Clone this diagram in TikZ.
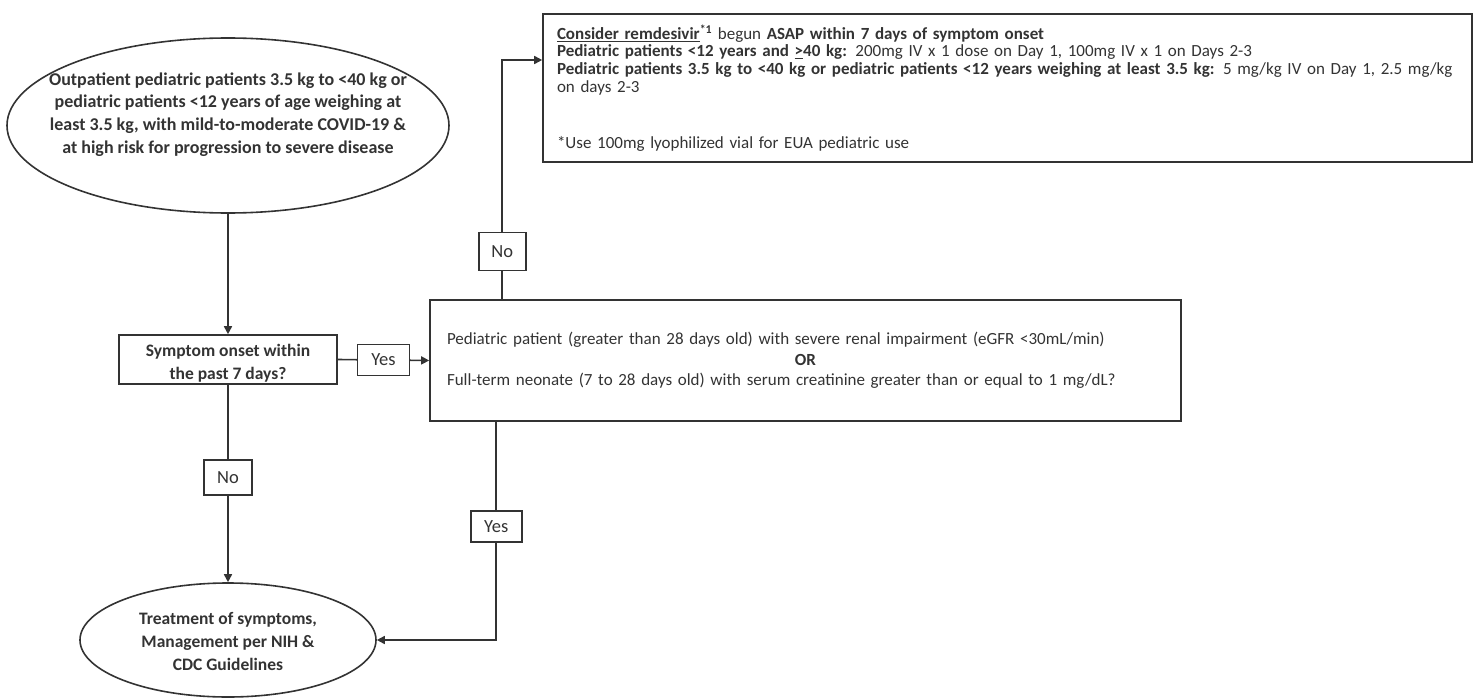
\documentclass[tikz,border=0pt]{standalone}
\usepackage{fontspec}
\setmainfont{Carlito}
\usetikzlibrary{shapes.geometric, arrows.meta}
\definecolor{ink}{HTML}{333333}

\begin{document}
\begin{tikzpicture}[x=1pt, y=-1pt, line width=1.6pt, draw=ink, text=ink,
  oval/.style={ellipse, draw, inner sep=0pt},
  box/.style={rectangle, draw, inner sep=0pt},
  tag/.style={rectangle, draw, fill=white, inner sep=0pt, font=\fontsize{18.5}{20}\selectfont},
  link/.style={-{Triangle[length=8pt, width=8pt]}}]
\useasboundingbox (0,0) rectangle (1473,698);
% Draw start and end ovals
\node[oval, minimum width=442, minimum height=175,
  label={[align=center, font=\fontsize{18}{22.7}\selectfont\bfseries, yshift=11pt]center:Outpatient pediatric patients 3.5 kg to <40 kg or\\pediatric patients <12 years of age weighing at\\least 3.5 kg, with mild-to-moderate COVID-19 \&\\at high risk for progression to severe disease}]
  (start) at (228,125.5) {};
\node[oval, minimum width=296, minimum height=114,
  label={[align=center, font=\fontsize{17.5}{23}\selectfont\bfseries, yshift=-1pt]center:Treatment of symptoms,\\Management per NIH \&\\CDC Guidelines}]
  (stop) at (228,640) {};
% Draw question boxes
\node[box, minimum width=218, minimum height=49,
  label={[align=center, font=\fontsize{17.5}{23}\selectfont\bfseries, yshift=-4pt]center:Symptom onset within\\the past 7 days?}]
  (onset) at (228,359.5) {};
\node[box, minimum width=751, minimum height=121, text width=717, align=left,
  font=\fontsize{17}{20.5}\selectfont] (renal) at (805.5,360.5)
  {Pediatric patient (greater than 28 days old) with severe renal impairment (eGFR <30mL/min)\\
   \makebox[\linewidth]{\textbf{OR}}\\
   Full-term neonate (7 to 28 days old) with serum creatinine greater than or equal to 1 mg/dL?};
% Draw dosing box
\node[box, minimum width=929, minimum height=148.5, text width=901, align=left,
  font=\fontsize{17}{17.7}\selectfont] (remdes) at (1007.5,88)
  {\textbf{\underline{Consider remdesivir}\textsuperscript{*1}} begun \textbf{ASAP within 7 days of symptom onset}\\
   \textbf{Pediatric patients <12 years and \underline{>}40 kg:} 200mg IV x 1 dose on Day 1, 100mg IV x 1 on Days 2-3\\
   \textbf{Pediatric patients 3.5 kg to <40 kg or pediatric patients <12 years weighing at least 3.5 kg:} 5 mg/kg IV on Day 1, 2.5 mg/kg\\
   on days 2-3\\[38.5pt]
   *Use 100mg lyophilized vial for EUA pediatric use};
% Draw connectors
\draw[link] (start.south) -- (onset.north);
\draw[link] (onset.east) -- node[tag, minimum width=52, minimum height=31] (yes1) {Yes} (renal.west);
\draw[link] ([xshift=73pt]renal.north west) |- node[tag, pos=0.1, minimum width=47, minimum height=38] (no1) {No} ([yshift=28pt]remdes.west);
\draw[link] (onset.south) -- node[tag, pos=0.47, minimum width=48, minimum height=35] (no2) {No} (stop.north);
\draw[link] ([xshift=67pt]renal.south west) |- node[tag, pos=0.24, minimum width=51, minimum height=31] (yes2) {Yes} (stop.east);
\end{tikzpicture}
\end{document}
